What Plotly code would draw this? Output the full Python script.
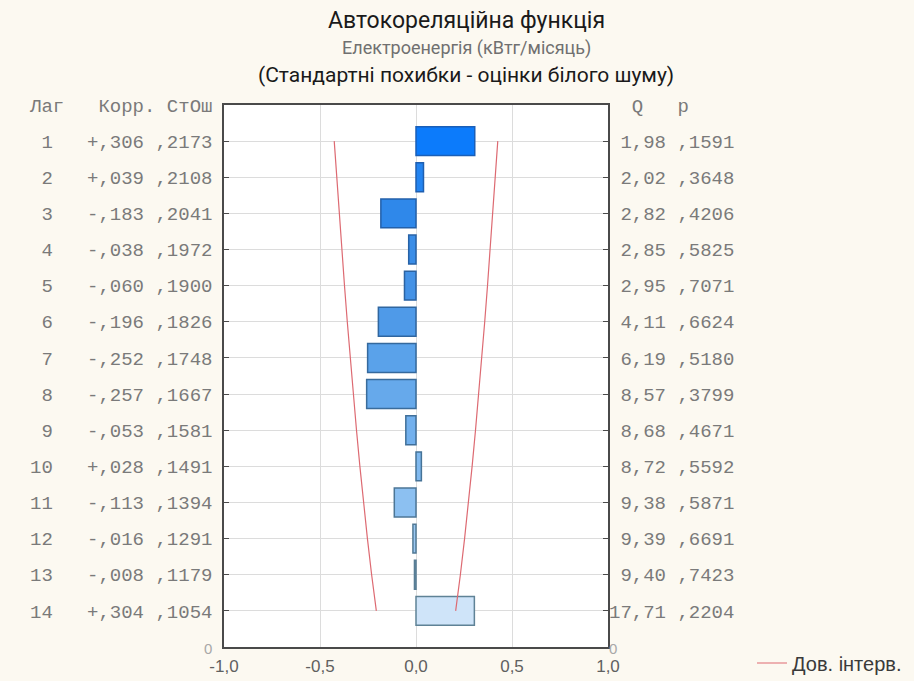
import plotly.graph_objects as go

# --- data ---
lags = list(range(1, 15))
corr = [0.306, 0.039, -0.183, -0.038, -0.060, -0.196, -0.252,
        -0.257, -0.053, 0.028, -0.113, -0.016, -0.008, 0.304]
corr_txt = ["+,306", "+,039", "-,183", "-,038", "-,060", "-,196", "-,252",
            "-,257", "-,053", "+,028", "-,113", "-,016", "-,008", "+,304"]
std_err = [0.2173, 0.2108, 0.2041, 0.1972, 0.1900, 0.1826, 0.1748,
           0.1667, 0.1581, 0.1491, 0.1394, 0.1291, 0.1179, 0.1054]
se_txt = [",2173", ",2108", ",2041", ",1972", ",1900", ",1826", ",1748",
          ",1667", ",1581", ",1491", ",1394", ",1291", ",1179", ",1054"]
q_txt = ["1,98", "2,02", "2,82", "2,85", "2,95", "4,11", "6,19",
         "8,57", "8,68", "8,72", "9,38", "9,39", "9,40", "17,71"]
p_txt = [",1591", ",3648", ",4206", ",5825", ",7071", ",6624", ",5180",
         ",3799", ",4671", ",5592", ",5871", ",6691", ",7423", ",2204"]
x_ticks = [-1.0, -0.5, 0.0, 0.5, 1.0]
x_tick_labels = ["-1,0", "-0,5", "0,0", "0,5", "1,0"]

# 95% band for white noise
ci_hi = [1.96 * s for s in std_err]
ci_lo = [-v for v in ci_hi]

# bar shading goes from saturated blue (lag 1) to pale blue (lag 14)
bar_fill = ["#0c7bfb", "#2384f1", "#2f88ea", "#3a8de7", "#4492e6", "#4f9ae8", "#5aa2ea",
            "#66a9eb", "#72b0ed", "#80b9ef", "#8cc0f1", "#9ac8f3", "#a8d0f4", "#cfe4f9"]
bar_edge = ["#1a5fb8", "#1f5fb0", "#2360aa", "#2762a6", "#2b63a2", "#30669f", "#35699d",
            "#3a6c9b", "#406f99", "#467397", "#4c7696", "#527995", "#587d94", "#5f8296"]

NB = "\u00a0"
mono = "Liberation Mono"
txt_grey = "#7a7a7a"
head_font = "Roboto, sans-serif"

left_labels = ["Лаг" + NB * 3 + "Корр." + NB + "СтОш"]
for lag, c, s in zip(lags, corr_txt, se_txt):
    left_labels.append(str(lag).rjust(2, NB) + NB * 3 + c + NB + s)
left_labels.append("<span style='color:#a8a8a8;font-family:Liberation Sans;font-size:15px'>0</span>")

right_labels = [NB * 2 + "Q" + NB * 3 + "p"]
for q, p in zip(q_txt, p_txt):
    right_labels.append(q.rjust(5, NB) + NB + p)
right_labels.append("<span style='color:#a8a8a8;font-family:Liberation Sans;font-size:15px'>0</span>")

row_ticks = list(range(0, 16))

fig = go.Figure()

fig.add_trace(go.Bar(
    x=corr, y=lags, orientation="h", width=0.8,
    marker=dict(color=bar_fill, line=dict(color=bar_edge, width=1.5)),
    showlegend=False, hoverinfo="x+y"
))

fig.add_trace(go.Scatter(
    x=ci_lo, y=lags, mode="lines",
    line=dict(color="#dd6a72", width=1.2),
    name="Дов. інтерв.", showlegend=True
))
fig.add_trace(go.Scatter(
    x=ci_hi, y=lags, mode="lines",
    line=dict(color="#dd6a72", width=1.2),
    showlegend=False
))
# invisible trace so the right-hand axis gets drawn
fig.add_trace(go.Scatter(
    x=[0], y=[0], yaxis="y2", mode="markers",
    marker=dict(opacity=0), showlegend=False, hoverinfo="skip"
))

title_x = (466 - 224) / 384
def py(pix):
    return 1 + (105 - pix) / 542

fig.add_annotation(text="Автокореляційна функція", xref="paper", yref="paper",
                   x=title_x, y=py(21), yanchor="middle", showarrow=False,
                   font=dict(family=head_font, size=23, color="#1a1a1a"))
fig.add_annotation(text="Електроенергія (кВтг/місяць)", xref="paper", yref="paper",
                   x=title_x, y=py(48), yanchor="middle", showarrow=False,
                   font=dict(family=head_font, size=18, color="#707070"))
fig.add_annotation(text="(Стандартні похибки - оцінки білого шуму)", xref="paper", yref="paper",
                   x=title_x, y=py(75), yanchor="middle", showarrow=False,
                   font=dict(family=head_font, size=21, color="#1a1a1a"))

fig.update_layout(
    width=914, height=681,
    margin=dict(l=224, r=306, t=105, b=34, autoexpand=False),
    paper_bgcolor="#fcf9f1",
    plot_bgcolor="#ffffff",
    bargap=0.2,
    xaxis=dict(
        range=[-1, 1], tickvals=x_ticks, ticktext=x_tick_labels,
        showgrid=True, gridcolor="#dcdcdc", gridwidth=1,
        zeroline=False, showline=True, linecolor="#4a4a4a", linewidth=1.5,
        mirror=True, ticks="",
        ticklabelstandoff=3,
        tickfont=dict(family="Liberation Sans", size=17, color="#606060"),
    ),
    yaxis=dict(
        range=[15, 0], tickvals=row_ticks, ticktext=left_labels,
        showgrid=True, gridcolor="#dcdcdc", gridwidth=1,
        zeroline=False, showline=True, linecolor="#4a4a4a", linewidth=1.5,
        mirror=True, ticks="inside", ticklen=5, tickcolor="#4a4a4a",
        ticklabelstandoff=6,
        tickfont=dict(family=mono, size=19, color=txt_grey),
    ),
    yaxis2=dict(
        range=[15, 0], overlaying="y", side="right",
        tickvals=row_ticks, ticktext=right_labels,
        showgrid=False, zeroline=False, showline=False,
        ticks="inside", ticklen=5, tickcolor="#4a4a4a",
        tickfont=dict(family=mono, size=19, color=txt_grey),
    ),
    legend=dict(
        x=(752 - 224) / 384, xanchor="left",
        y=-(663 - 647) / 542, yanchor="middle",
        bgcolor="rgba(0,0,0,0)",
        font=dict(family="Liberation Sans", size=20, color="#3a3a3a"),
    ),
)

fig.write_html("out.html", config={"displayModeBar": False},
               post_script="document.body.style.margin='0px';")
